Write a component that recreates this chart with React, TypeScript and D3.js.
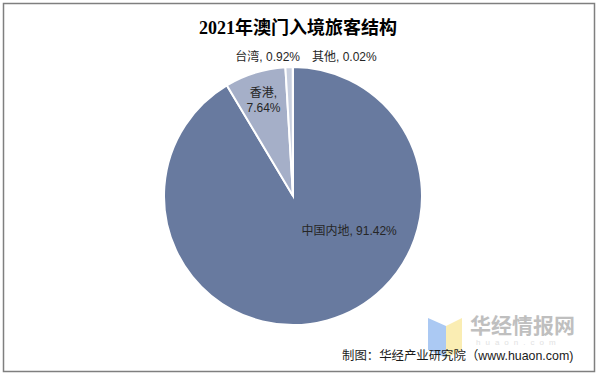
import React from "react";
import * as d3 from "d3";

const categories = ["中国内地", "香港", "台湾", "其他"];
const values = [91.42, 7.64, 0.92, 0.02];
const colors = ["#687a9f", "#a5afc8", "#c8cfdf", "#dfe3ec"];

const W = 597;
const H = 377;
const cx = 293;
const cy = 196;
const R = 129;

export default function App() {
  const pie = d3.pie<number>().sort(null).value((d) => d)(values);
  const arc = d3.arc<d3.PieArcDatum<number>>().innerRadius(0).outerRadius(R);
  const fmt = (v: number) => v.toFixed(2) + "%";
  const lab = "'Liberation Sans', Arial, 'Noto Sans CJK SC', sans-serif";
  const mainAng = pie[0].startAngle + (pie[0].endAngle - pie[0].startAngle) * 0.37;
  const hkMid = (pie[1].startAngle + pie[1].endAngle) / 2;
  const polar = (a: number, r: number) => [cx + r * Math.sin(a), cy - r * Math.cos(a)];
  const [mx, my] = polar(mainAng, 66);
  const [hx, hy] = polar(hkMid, 100);
  return (
    <svg width={W} height={H} style={{ position: "absolute", left: 0, top: 0, background: "#fff" }}>
      <rect x={3.5} y={3.5} width={591} height={368} fill="#fff" stroke="#7f7f7f" strokeWidth={1.5} />
      <text x={298} y={34} textAnchor="middle" fontFamily="'Liberation Serif', 'Noto Sans CJK SC', serif" fontWeight="bold" fontSize={18} fill="#000">
        2021年澳门入境旅客结构
      </text>
      <g transform={`translate(${cx},${cy})`}>
        {pie.map((p, i) => (
          <path key={i} d={arc(p) || ""} fill={colors[i]} stroke="#fff" strokeWidth={2} strokeLinejoin="miter" />
        ))}
      </g>
      <text x={mx} y={my + 4} textAnchor="middle" fontFamily={lab} fontSize={12} fill="#262626">
        {categories[0]}, {fmt(values[0])}
      </text>
      <text x={hx} y={hy - 3} textAnchor="middle" fontFamily={lab} fontSize={12} fill="#262626">
        {categories[1]},
      </text>
      <text x={hx} y={hy + 12} textAnchor="middle" fontFamily={lab} fontSize={12} fill="#262626">
        {fmt(values[1])}
      </text>
      <text x={300} y={61} textAnchor="end" fontFamily={lab} fontSize={12} fill="#262626">
        {categories[2]}, {fmt(values[2])}
      </text>
      <text x={312} y={61} textAnchor="start" fontFamily={lab} fontSize={12} fill="#262626">
        {categories[3]}, {fmt(values[3])}
      </text>
      {/* watermark */}
      <g opacity={0.75}>
        <polygon points="428,318 446,326 446,358 428,350" fill="#8fb8f0" />
        <polygon points="446,326 462,318 462,350 446,358" fill="#f9e79a" />
      </g>
      <text x={470} y={333} fontFamily="'Noto Sans CJK SC', sans-serif" fontWeight="bold" fontSize={21} fill="#b5b5b5" opacity={0.85}>
        华经情报网
      </text>
      <text x={476} y={345} fontFamily={lab} fontSize={8} fill="#e2e2e2" letterSpacing={5}>
        huaon.com
      </text>
      <text x={342} y={360} fontFamily={lab} fontSize={12.4} fill="#1a1a1a">
        制图：华经产业研究院（www.huaon.com)
      </text>
    </svg>
  );
}
